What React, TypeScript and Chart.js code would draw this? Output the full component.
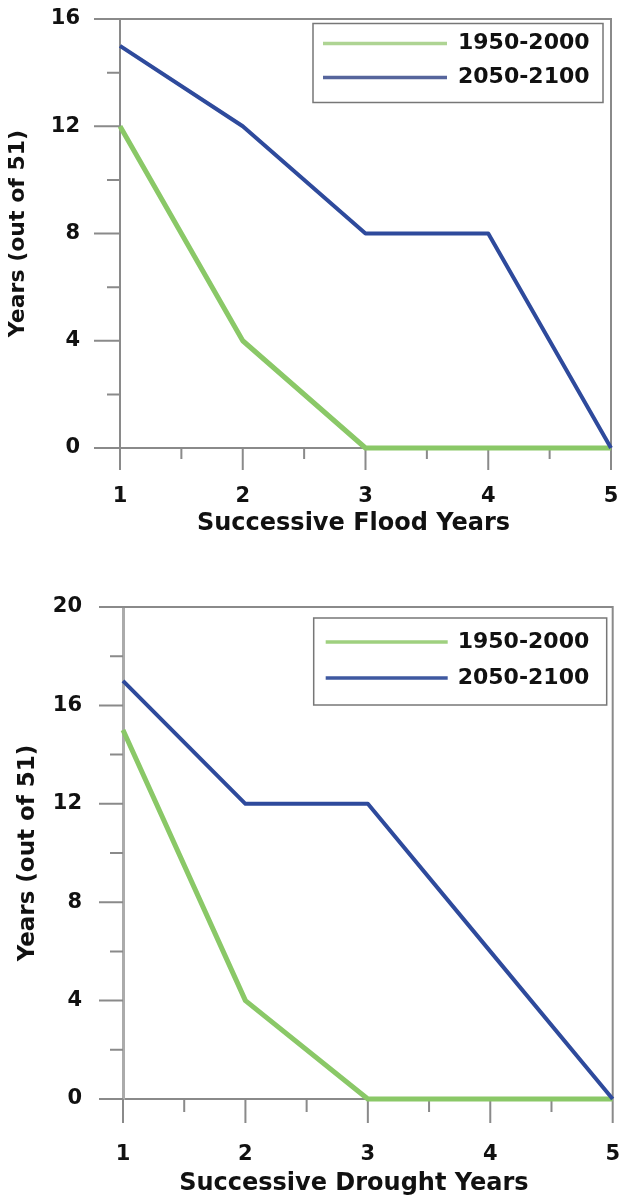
import React, { useEffect, useRef } from "react";
import { Chart, registerables } from "chart.js";

Chart.register(...registerables);

// ---------- data ----------
const xValues = [1, 2, 3, 4, 5];
const xMinorTicks = [1.5, 2.5, 3.5, 4.5];
const seriesLabels = ["1950-2000", "2050-2100"];

const floodPast = [12, 4, 0, 0, 0];
const floodFuture = [15, 12, 8, 8, 0];
const floodYTicks = [0, 4, 8, 12, 16];
const floodYMinor = [2, 6, 10, 14];
const floodXTitle = "Successive Flood Years";

const droughtPast = [15, 4, 0, 0, 0];
const droughtFuture = [17, 12, 12, 6, 0];
const droughtYTicks = [0, 4, 8, 12, 16, 20];
const droughtYMinor = [2, 6, 10, 14, 18];
const droughtXTitle = "Successive Drought Years";

const yTitleText = "Years (out of 51)";

// ---------- styles ----------
const GREEN = "#8ac867";
const BLUE = "#2e4a9c";
const AXIS = "#8a8a8a";
const TEXT = "#111111";
const FONT = "'DejaVu Sans', sans-serif";

const frameDecor = {
  id: "frameDecor",
  beforeDatasetsDraw(chart: any, _args: any, opts: any) {
    const { ctx, chartArea: a, scales } = chart;
    const x = scales.x;
    const y = scales.y;
    ctx.save();
    ctx.strokeStyle = opts.color;
    ctx.lineWidth = opts.width;
    ctx.beginPath();
    ctx.moveTo(a.left, a.top);
    ctx.lineTo(a.right, a.top);
    ctx.lineTo(a.right, a.bottom);
    ctx.stroke();
    ctx.beginPath();
    for (const v of opts.xMinor) {
      const px = x.getPixelForValue(v);
      ctx.moveTo(px, a.bottom);
      ctx.lineTo(px, a.bottom + opts.xMinorLen);
    }
    for (const v of opts.xMajor) {
      const px = x.getPixelForValue(v);
      ctx.moveTo(px, a.bottom);
      ctx.lineTo(px, a.bottom + opts.xMajorLen);
    }
    for (const v of opts.yMinor) {
      const py = y.getPixelForValue(v);
      ctx.moveTo(a.left, py);
      ctx.lineTo(a.left - opts.yMinorLen, py);
    }
    for (const v of opts.yMajor) {
      const py = y.getPixelForValue(v);
      ctx.moveTo(a.left, py);
      ctx.lineTo(a.left - opts.yMajorLen, py);
    }
    ctx.stroke();
    ctx.restore();
  },
  afterDraw(chart: any, _args: any, opts: any) {
    const { ctx, chartArea: a } = chart;
    ctx.save();
    ctx.font = `bold ${opts.xTitleSize}px ${FONT}`;
    ctx.fillStyle = TEXT;
    ctx.textAlign = "center";
    ctx.textBaseline = "middle";
    ctx.fillText(opts.xTitle, (a.left + a.right) / 2 + opts.xTitleDx, a.bottom + opts.xTitleDy);
    ctx.restore();
  },
};

const boxLegend = {
  id: "boxLegend",
  afterDatasetsDraw(chart: any, _args: any, opts: any) {
    const { ctx, chartArea: a } = chart;
    const bx = a.right - opts.right - opts.width;
    const by = a.top + opts.top;
    ctx.save();
    ctx.strokeStyle = "#777777";
    ctx.lineWidth = 1.5;
    ctx.strokeRect(bx, by, opts.width, opts.height);
    ctx.font = `bold ${opts.fontSize}px ${FONT}`;
    ctx.textBaseline = "middle";
    ctx.textAlign = "left";
    chart.data.datasets.forEach((ds: any, i: number) => {
      const cy = by + opts.rows[i];
      ctx.strokeStyle = opts.lineColors[i];
      ctx.lineWidth = 3.5;
      ctx.beginPath();
      ctx.moveTo(bx + opts.lineX0, cy);
      ctx.lineTo(bx + opts.lineX1, cy);
      ctx.stroke();
      ctx.fillStyle = TEXT;
      ctx.fillText(ds.label, bx + opts.textX, cy);
    });
    ctx.restore();
  },
};

function makeConfig(p: any): any {
  return {
    type: "line",
    data: {
      datasets: [
        {
          label: seriesLabels[0],
          data: xValues.map((x, i) => ({ x, y: p.past[i] })),
          borderColor: GREEN,
          borderWidth: 5,
          pointRadius: 0,
          tension: 0,
          order: 1,
          clip: false,
          borderJoinStyle: "round",
        },
        {
          label: seriesLabels[1],
          data: xValues.map((x, i) => ({ x, y: p.future[i] })),
          borderColor: BLUE,
          borderWidth: 4,
          pointRadius: 0,
          tension: 0,
          order: 0,
          clip: false,
          borderJoinStyle: "round",
        },
      ],
    },
    options: {
      animation: false,
      responsive: false,
      layout: { padding: p.padding, autoPadding: false },
      plugins: {
        legend: { display: false },
        tooltip: { enabled: false },
        frameDecor: {
          color: AXIS,
          width: 2,
          xMinor: xMinorTicks,
          xMajor: xValues,
          yMinor: p.yMinor,
          yMajor: p.yTicks,
          xMinorLen: p.xMinorLen,
          yMinorLen: p.yMinorLen,
          xMajorLen: p.xMajorLen,
          yMajorLen: p.yMajorLen,
          xTitle: p.xTitle,
          xTitleSize: 24,
          xTitleDx: p.xTitleDx,
          xTitleDy: p.xTitleDy,
        },
        boxLegend: p.legend,
      },
      scales: {
        x: {
          type: "linear",
          min: 1,
          max: 5,
          afterBuildTicks: (s: any) => {
            s.ticks = xValues.map((v) => ({ value: v }));
          },
          afterFit: (s: any) => {
            s.height = p.xHeight;
          },
          grid: {
            drawOnChartArea: false,
            tickLength: p.xMajorLen + p.xPad,
            tickColor: "rgba(0,0,0,0)",
          },
          border: { color: AXIS, width: 2 },
          ticks: {
            padding: 0,
            color: TEXT,
            maxRotation: 0,
            autoSkip: false,
            font: { family: FONT, weight: "bold", size: p.tickSize },
          },
          title: { display: false },
        },
        y: {
          type: "linear",
          min: 0,
          max: p.yMax,
          afterBuildTicks: (s: any) => {
            s.ticks = p.yTicks.map((v: number) => ({ value: v }));
          },
          afterFit: (s: any) => {
            s.width = p.yWidth;
          },
          grid: {
            drawOnChartArea: false,
            tickLength: p.yMajorLen + p.yPad,
            tickColor: "rgba(0,0,0,0)",
          },
          border: { color: p.yBorderColor, width: p.yBorderWidth },
          ticks: {
            padding: 0,
            color: TEXT,
            autoSkip: false,
            font: { family: FONT, weight: "bold", size: p.tickSize },
          },
          title: {
            display: true,
            text: yTitleText,
            color: TEXT,
            padding: 0,
            font: { family: FONT, weight: "bold", size: p.yTitleSize },
          },
        },
      },
    },
    plugins: [frameDecor, boxLegend],
  };
}

const topParams = {
  past: floodPast,
  future: floodFuture,
  yTicks: floodYTicks,
  yMinor: floodYMinor,
  yMax: 16,
  xTitle: floodXTitle,
  xTitleDx: -12,
  xTitleDy: 76,
  padding: { left: 5, right: 9, top: 19, bottom: 42 },
  yWidth: 115,
  xHeight: 90,
  yMajorLen: 26,
  xMajorLen: 22,
  yMinorLen: 13,
  xMinorLen: 11,
  yPad: 14,
  xPad: 14,
  tickSize: 21,
  yBorderColor: AXIS,
  yBorderWidth: 2,
  yTitleSize: 22,
  legend: {
    right: 8,
    top: 4.5,
    width: 290,
    height: 79,
    lineX0: 10,
    lineX1: 134,
    textX: 145,
    rows: [20, 54],
    fontSize: 22,
    lineColors: ["#aed493", "#56659c"],
  },
};

const bottomParams = {
  past: droughtPast,
  future: droughtFuture,
  yTicks: droughtYTicks,
  yMinor: droughtYMinor,
  yMax: 20,
  xTitle: droughtXTitle,
  xTitleDx: -14,
  xTitleDy: 85,
  padding: { left: 14, right: 5, top: 27, bottom: 0 },
  yWidth: 109,
  xHeight: 99,
  yMajorLen: 24,
  xMajorLen: 24,
  yMinorLen: 13,
  xMinorLen: 13,
  yPad: 17,
  xPad: 19,
  tickSize: 21,
  yBorderColor: "#ababab",
  yBorderWidth: 3,
  yTitleSize: 23,
  legend: {
    right: 6,
    top: 11,
    width: 293,
    height: 87,
    lineX0: 12,
    lineX1: 134,
    textX: 144,
    rows: [24, 60],
    fontSize: 22,
    lineColors: ["#9fd07f", "#3e58a0"],
  },
};

function ChartCanvas({ params, height, top }: { params: any; height: number; top: number }) {
  const ref = useRef<HTMLCanvasElement | null>(null);
  useEffect(() => {
    if (!ref.current) return;
    const chart = new Chart(ref.current, makeConfig(params));
    return () => chart.destroy();
  }, [params]);
  return (
    <canvas
      ref={ref}
      width={620}
      height={height}
      style={{ position: "absolute", left: 0, top, width: 620, height, display: "block" }}
    />
  );
}

export default function App() {
  return (
    <div
      style={{
        position: "absolute",
        left: 0,
        top: 0,
        width: 620,
        height: 1198,
        background: "#ffffff",
        overflow: "hidden",
      }}
    >
      <ChartCanvas params={topParams} height={580} top={0} />
      <ChartCanvas params={bottomParams} height={618} top={580} />
    </div>
  );
}
